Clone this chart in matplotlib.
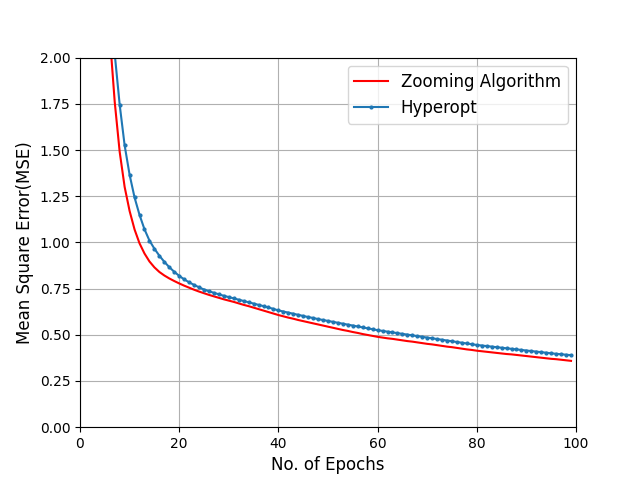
import numpy as np
import matplotlib
matplotlib.use("Agg")
import matplotlib.pyplot as plt

epochs = np.arange(1, 100)

# zooming algorithm (red line)
zoom_mse = [12.0, 6.3, 4.3, 3.2, 2.6, 2.12, 1.76, 1.49, 1.30, 1.17,
            1.07, 0.995, 0.940, 0.897, 0.865, 0.840, 0.821, 0.805, 0.791, 0.778,
            0.766, 0.755, 0.744, 0.734, 0.725, 0.716, 0.708, 0.700, 0.692, 0.685,
            0.678, 0.670, 0.662, 0.655, 0.647, 0.639, 0.631, 0.623, 0.615, 0.607,
            0.600, 0.593, 0.587, 0.580, 0.574, 0.568, 0.562, 0.556, 0.550, 0.544,
            0.538, 0.532, 0.526, 0.521, 0.515, 0.510, 0.504, 0.499, 0.494, 0.489,
            0.485, 0.481, 0.478, 0.474, 0.470, 0.466, 0.463, 0.459, 0.455, 0.451,
            0.448, 0.444, 0.440, 0.436, 0.433, 0.429, 0.425, 0.421, 0.418, 0.414,
            0.411, 0.408, 0.405, 0.402, 0.399, 0.396, 0.394, 0.391, 0.388, 0.385,
            0.382, 0.379, 0.376, 0.373, 0.370, 0.368, 0.365, 0.362, 0.359]

# hyperopt (blue line with dots)
hyper_mse = [14.0, 7.2, 4.9, 3.7, 3.0, 2.45, 2.02, 1.745, 1.525, 1.366,
             1.243, 1.149, 1.071, 1.010, 0.966, 0.928, 0.895, 0.866, 0.841, 0.819,
             0.800, 0.784, 0.770, 0.757, 0.745, 0.736, 0.727, 0.719, 0.711, 0.704,
             0.697, 0.690, 0.683, 0.676, 0.669, 0.662, 0.655, 0.648, 0.640, 0.632,
             0.626, 0.620, 0.614, 0.608, 0.602, 0.596, 0.591, 0.585, 0.580, 0.575,
             0.570, 0.565, 0.560, 0.555, 0.550, 0.545, 0.540, 0.535, 0.530, 0.525,
             0.521, 0.517, 0.513, 0.509, 0.505, 0.501, 0.497, 0.493, 0.489, 0.485,
             0.481, 0.477, 0.473, 0.469, 0.465, 0.461, 0.457, 0.453, 0.449, 0.445,
             0.442, 0.439, 0.436, 0.433, 0.430, 0.427, 0.424, 0.421, 0.418, 0.415,
             0.412, 0.409, 0.406, 0.403, 0.400, 0.397, 0.395, 0.392, 0.390]

plt.figure(figsize=(6.4, 4.8), dpi=100)
plt.plot(epochs, zoom_mse, 'r', label='Zooming Algorithm')
plt.plot(epochs, hyper_mse, '.-', color='C0', markersize=4, label='Hyperopt')
plt.xlim(0, 100)
plt.ylim(0, 2)
plt.grid(True)
plt.xlabel('No. of Epochs', fontsize=12)
plt.ylabel('Mean Square Error(MSE)', fontsize=12)
plt.legend(fontsize=12)
plt.savefig('out.png')
